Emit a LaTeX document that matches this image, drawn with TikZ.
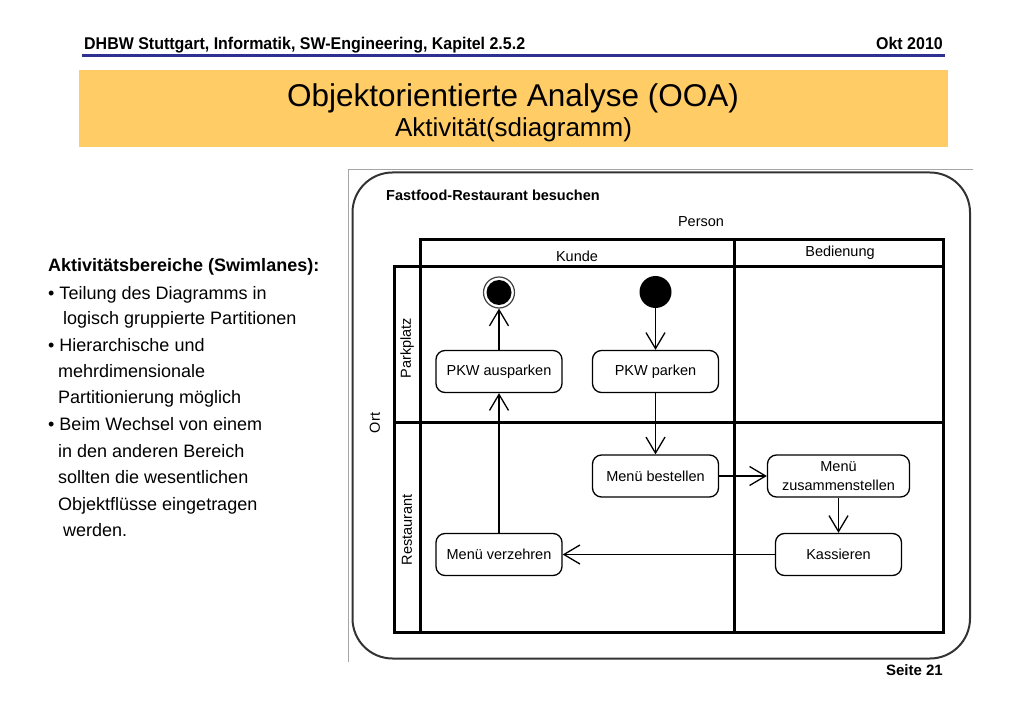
\documentclass[tikz,border=0pt]{standalone}
\usepackage{fontspec}
\setmainfont{Liberation Sans}
\newfontfamily\hdrfont[FakeStretch=0.94]{Liberation Sans}
\usetikzlibrary{arrows.meta}
\definecolor{band}{RGB}{255,204,102}
\definecolor{hdrblue}{RGB}{46,49,146}
\definecolor{framegray}{RGB}{165,165,165}
\begin{document}
\begin{tikzpicture}[x=1pt,y=-1pt,
  act/.style={draw, line width=1.3pt, rounded corners=9pt, minimum width=126pt, minimum height=42pt, inner sep=2pt, align=center, font=\fontsize{14.5}{19}\selectfont},
  flow/.style={line width=1.3pt, -{Straight Barb[length=16pt,width=19pt,line width=1.3pt]}},
  lane/.style={line width=3pt, line cap=rect},
  lbl/.style={font=\fontsize{14.5}{17}\selectfont, inner sep=0pt},
  body/.style={anchor=base west, inner sep=0pt, font=\fontsize{18}{22}\selectfont},
  hdr/.style={inner sep=0pt, font=\hdrfont\fontsize{17}{20}\bfseries\selectfont}
]
\useasboundingbox (0,0) rectangle (1023,708);
% header
\node[hdr, anchor=base west] (hdrtext) at (84,50) {DHBW Stuttgart, Informatik, SW-Engineering, Kapitel 2.5.2};
\node[hdr, anchor=base east] (date) at (943,50) {Okt 2010};
\draw[hdrblue, line width=2.5pt] (82,55.5) -- (945,55.5);
\fill[band] (79,70) rectangle (948,147);
\node[anchor=base, inner sep=0pt, font=\fontsize{31.5}{36}\selectfont] (title) at (513,107) {Objektorientierte Analyse (OOA)};
\node[anchor=base, inner sep=0pt, font=\fontsize{26}{30}\selectfont] (subtitle) at (513.5,137) {Aktivität(sdiagramm)};
% left text
\node[body, font=\bfseries\fontsize{18}{22}\selectfont] (t0) at (48,272) {Aktivitätsbereiche (Swimlanes):};
\node[body] (t1) at (48,300) {• Teilung des Diagramms in};
\node[body] (t2) at (63,325) {logisch gruppierte Partitionen};
\node[body] (t3) at (48,352) {• Hierarchische und};
\node[body] (t4) at (58,378) {mehrdimensionale};
\node[body] (t5) at (58,404) {Partitionierung möglich};
\node[body] (t6) at (48,431) {• Beim Wechsel von einem};
\node[body] (t7) at (58,457) {in den anderen Bereich};
\node[body] (t8) at (58,483) {sollten die wesentlichen};
\node[body] (t9) at (58,510) {Objektflüsse eingetragen};
\node[body] (t10) at (63,536) {werden.};
% image border and frame
\draw[framegray, line width=0.8pt] (348.5,662) -- (348.5,169.5) -- (973,169.5);
\draw[black!80, line width=2pt, rounded corners=40pt] (352.5,172.5) rectangle (970,658.5);
\node[anchor=base west, inner sep=0pt, font=\bfseries\fontsize{14.5}{17}\selectfont] (acttitle) at (386,201) {Fastfood-Restaurant besuchen};
\node[lbl] (person) at (701,222) {Person};
% swimlanes
\draw[lane] (420,240) -- (943,240);
\draw[lane] (394,267) -- (943,267);
\draw[lane] (394,423) -- (943,423);
\draw[lane] (394,632) -- (943,632);
\draw[lane] (394,267) -- (394,632);
\draw[lane] (420,240) -- (420,632);
\draw[lane] (734.5,240) -- (734.5,632);
\draw[lane] (943,240) -- (943,632);
\node[lbl] (kunde) at (577,256) {Kunde};
\node[lbl] (bedienung) at (840,253) {Bedienung};
\node[lbl, rotate=90] (ort) at (375,423) {Ort};
\node[lbl, rotate=90] (parkplatz) at (407,348) {Parkplatz};
\node[lbl, rotate=90] (restaurant) at (407,530) {Restaurant};
% activities
\node[act] (aus) at (499,371.5) {PKW ausparken};
\node[act] (park) at (655.5,371.5) {PKW parken};
\node[act] (best) at (655.5,476) {Menü bestellen};
\node[act, minimum width=142pt] (zus) at (838.5,476) {Menü\\zusammenstellen};
\node[act] (kass) at (838.5,554.5) {Kassieren};
\node[act] (verz) at (499,554.5) {Menü verzehren};
\node[circle, fill=black, minimum size=32pt, inner sep=0pt] (start) at (655.5,292) {};
\node[circle, draw=black!75, line width=1.2pt, minimum size=31pt, inner sep=0pt] (end) at (499,292.5) {};
\node[circle, fill=black, minimum size=25pt, inner sep=0pt] (endin) at (end.center) {};
% flows
\draw[flow] (start) -- (park);
\draw[flow] (park) -- (best);
\draw[flow] (best) -- (zus);
\draw[flow] (zus) -- (kass);
\draw[flow] (kass) -- (verz);
\draw[flow] (verz) -- (aus);
\draw[flow] (aus) -- (end);
% footer
\node[anchor=base east, inner sep=0pt, font=\bfseries\fontsize{15}{18}\selectfont] (page) at (943,675) {Seite 21};
\end{tikzpicture}
\end{document}
